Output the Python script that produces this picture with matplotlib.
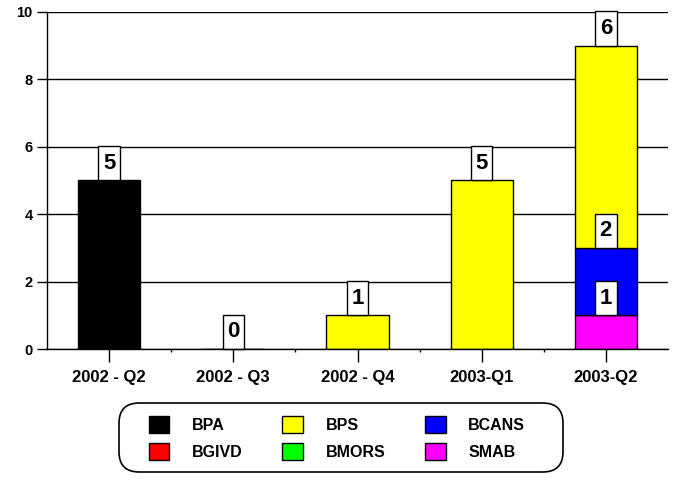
import matplotlib
matplotlib.use("Agg")
import matplotlib.pyplot as plt
from matplotlib.patches import FancyBboxPatch
from matplotlib.path import Path
import numpy as np

categories = ["2002 - Q2", "2002 - Q3", "2002 - Q4", "2003-Q1", "2003-Q2"]
# None = no bar segment; 0 = an empty bar that still carries a label
BPA = [5, 0, None, None, None]
BPS = [None, None, 1, 5, 6]
BCANS = [None, None, None, None, 2]
BGIVD = [None, None, None, None, None]
BMORS = [None, None, None, None, None]
SMAB = [None, None, None, None, 1]

series = {
    "BPA": (BPA, "#000000"),
    "BPS": (BPS, "#FFFF00"),
    "BCANS": (BCANS, "#0000FF"),
    "BGIVD": (BGIVD, "#FF0000"),
    "BMORS": (BMORS, "#00FF00"),
    "SMAB": (SMAB, "#FF00FF"),
}
stack_order = ["SMAB", "BMORS", "BGIVD", "BCANS", "BPS", "BPA"]
legend_order = ["BPA", "BGIVD", "BPS", "BMORS", "BCANS", "SMAB"]
yticks = [0, 2, 4, 6, 8, 10]

fam = ["Liberation Sans", "DejaVu Sans"]
plt.rcParams["font.family"] = fam

fig = plt.figure(figsize=(6.73, 4.86), dpi=100)
ax = fig.add_axes([47/673, 1-349/486, (668-47)/673, (349-12)/486])

x = np.arange(len(categories))
bottom = np.zeros(len(categories))
handles = {}
labels_to_draw = []
for name in stack_order:
    vals, col = series[name]
    v = np.array([np.nan if a is None else a for a in vals], dtype=float)
    h = np.nan_to_num(v)
    mask = ~np.isnan(v)
    ax.bar(x[mask], h[mask], bottom=bottom[mask], width=0.5,
           color=col, edgecolor="black", linewidth=1, zorder=3)
    handles[name] = plt.Rectangle((0, 0), 1, 1, facecolor=col, edgecolor="black", linewidth=1)
    for i in np.where(mask)[0]:
        labels_to_draw.append((x[i], bottom[i] + h[i], int(h[i])))
    bottom = bottom + h

fs_lab = 16
padx, pady = 0.2, 0.3


def tall_box(x0, y0, width, height, mutation_size):
    px = padx * mutation_size
    py = pady * mutation_size
    x0, y0 = x0 - px, y0 - py
    x1, y1 = x0 + width + 2 * px, y0 + height + 2 * py
    return Path([(x0, y0), (x1, y0), (x1, y1), (x0, y1), (x0, y0)], closed=True)


for xi, top, val in labels_to_draw:
    ax.annotate(str(val), (xi, top), xytext=(0, pady * fs_lab), textcoords="offset points",
                ha="center", va="bottom", fontsize=fs_lab, fontweight="bold",
                bbox=dict(boxstyle=tall_box, facecolor="white",
                          edgecolor="black", linewidth=1), zorder=5)

ax.set_xlim(-0.5, len(categories) - 0.5)
ax.set_ylim(0, 10)
ax.set_yticks(yticks)
ax.set_yticklabels([str(t) for t in yticks], fontsize=10.5, fontweight="bold")
ax.yaxis.grid(True, color="black", linewidth=1, zorder=0)
ax.set_axisbelow(True)
ax.tick_params(axis="y", length=7.2, width=1, direction="out", pad=3, colors="black")
ax.set_xticks(x)
ax.set_xticklabels(categories, fontsize=12, fontweight="bold")
ax.set_xticks(x[:-1] + 0.5, minor=True)
ax.tick_params(axis="x", which="major", length=9.4, width=1, pad=6)
ax.tick_params(axis="x", which="minor", length=2, width=1)
for s in ["top", "right"]:
    ax.spines[s].set_visible(False)
for s in ["left", "bottom"]:
    ax.spines[s].set_linewidth(1)
    ax.spines[s].set_zorder(6)

# rounded legend frame
fw, fh = 673, 486
frame = FancyBboxPatch((119/fw, 1-472/fh), (563-119)/fw, (472-403)/fh,
                       boxstyle="round,pad=0,rounding_size=0.03",
                       transform=fig.transFigure, facecolor="white",
                       edgecolor="black", linewidth=1.2, zorder=0,
                       mutation_aspect=fw/fh)
fig.patches.append(frame)

leg = fig.legend([handles[n] for n in legend_order], legend_order, ncol=3,
                 loc="center", bbox_to_anchor=(337/673, 1-438/486),
                 frameon=False,
                 prop=dict(weight="bold", size=11.5),
                 handlelength=1.3, handleheight=1.3, handletextpad=1.4,
                 columnspacing=2.5, borderpad=0, labelspacing=0.6, borderaxespad=0)

fig.savefig("out.png", dpi=100)
